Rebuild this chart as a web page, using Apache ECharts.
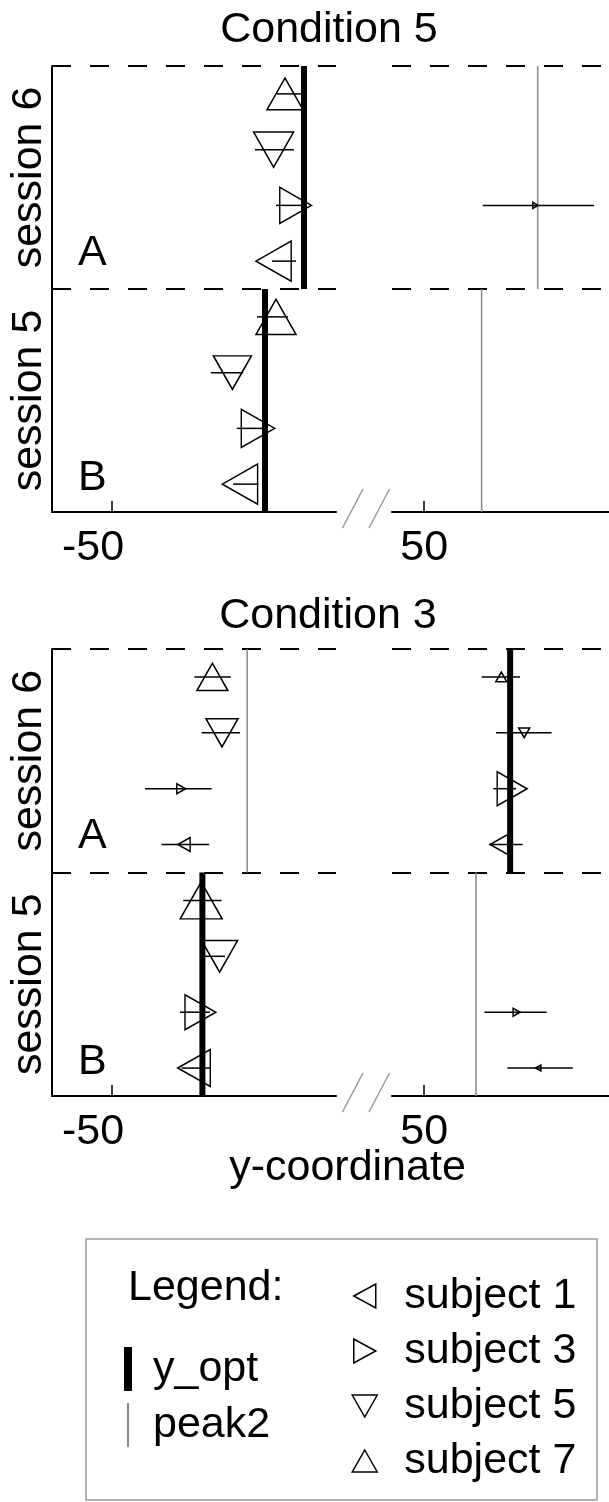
<!DOCTYPE html>
<html>
<head>
<meta charset="utf-8">
<title>y-coordinate per condition and session</title>
<script src="https://cdn.jsdelivr.net/npm/echarts@6/dist/echarts.min.js"></script>
<style>
  html, body { margin: 0; padding: 0; background: #fff; }
  #chart { width: 609px; height: 1502px; }
</style>
</head>
<body>
<div id="chart"></div>
<script>
const FONT = '"Liberation Sans", Arial, Helvetica, sans-serif';

const conditions = ['Condition 5', 'Condition 3'];
const subjects = ['subject 1', 'subject 3', 'subject 5', 'subject 7'];
const subjectRotate = [90, -90, 180, 0]; // <  >  v  ^
const sessionLabels = ['session 5', 'session 6'];
const sessionLetters = ['B', 'A'];

// tick labels on the two parts of the broken x axis
const leftTicks = [-50];
const rightTicks = [50];

// [session, subject index, mean, low, high, count(marker size)]
const cond5Points = [
  [6, 0, -9.6, -10.0, -4.0, 40],
  [6, 1, -4.1, -9.0, -2.25, 36],
  [6, 1, 77.7, 64.6, 92.3, 6],
  [6, 2, -9.6, -14.25, -4.5, 40],
  [6, 3, -6.75, -8.75, -2.5, 36],
  [5, 0, -18.0, -19.7, -13.4, 40],
  [5, 1, -13.5, -18.8, -11.3, 38],
  [5, 2, -19.9, -25.3, -17.2, 38],
  [5, 3, -9.0, -13.75, -6.0, 40]
];
const cond3Points = [
  [6, 0, -32.0, -37.6, -25.7, 14],
  [6, 0, 68.6, 66.2, 74.5, 20],
  [6, 1, -32.7, -41.75, -25.1, 10],
  [6, 1, 71.9, 67.2, 72.9, 34],
  [6, 2, -22.5, -27.6, -18.0, 32],
  [6, 2, 74.9, 67.9, 81.7, 11],
  [6, 3, -24.9, -29.4, -20.3, 31],
  [6, 3, 69.2, 64.3, 73.85, 11],
  [5, 0, -29.5, -32.6, -25.5, 37],
  [5, 0, 78.4, 70.7, 87.0, 6],
  [5, 1, -27.9, -33.0, -25.5, 35],
  [5, 1, 73.0, 65.0, 80.5, 8],
  [5, 2, -23.1, -27.6, -21.75, 36],
  [5, 3, -27.7, -32.2, -22.6, 42]
];

// [session 5, session 6]
const cond5YOpt = [-11.75, -2.0];
const cond5Peak2 = [64.3, 78.25];
const cond3YOpt = [-27.4, 71.4];
const cond3Peak2 = [62.9, -16.2];

const panels = [
  { points: cond5Points, yOpt: cond5YOpt, peak2: cond5Peak2, top: 66, height: 446 },
  { points: cond3Points, yOpt: cond3YOpt, peak2: cond3Peak2, top: 649, height: 447 }
];
const BREAK = 20; // values above this sit on the right part of the axis

// legend icons: the rotated triangles drawn as paths
const legendIcons = [
  'path://M0,12L22,0L22,24Z',
  'path://M22,12L0,0L0,24Z',
  'path://M0,0L25,0L12.5,22Z',
  'path://M12.5,0L25,22L0,22Z'
];

const rowOf = (session, k) => (session === 6 ? 4 : 0) + k + 0.5;

function vLine(width, color) {
  return function (params, api) {
    const a = api.coord([api.value(0), api.value(1)]);
    const b = api.coord([api.value(0), api.value(2)]);
    return {
      type: 'line',
      shape: { x1: a[0], y1: a[1], x2: b[0], y2: b[1] },
      style: { stroke: color, lineWidth: width }
    };
  };
}
function errBar(params, api) {
  const a = api.coord([api.value(0), api.value(2)]);
  const b = api.coord([api.value(1), api.value(2)]);
  return {
    type: 'line',
    shape: { x1: a[0], y1: a[1], x2: b[0], y2: b[1] },
    style: { stroke: '#000', lineWidth: 1.5 }
  };
}

const textStyle = { fontSize: 43, fontFamily: FONT, color: '#000' };

const grids = [], xAxes = [], yAxes = [], series = [];
panels.forEach((panel, p) => {
  [0, 1].forEach(side => {
    const g = p * 2 + side;
    const inSide = v => (side === 0 ? v < BREAK : v >= BREAK);
    grids.push({
      left: side ? 392 : 52, width: side ? 217 : 284,
      top: panel.top, height: panel.height,
      containLabel: false, outerBoundsMode: 'none'
    });
    xAxes.push({
      gridIndex: g, type: 'value',
      min: side ? 42 : -65, max: side ? 96 : 6,
      axisLine: { show: true, onZero: false, lineStyle: { color: '#000', width: 2 } },
      axisTick: { show: true, inside: true, length: 11, customValues: side ? rightTicks : leftTicks,
        lineStyle: { color: '#000', width: 1.5 } },
      axisLabel: Object.assign({ show: true, customValues: side ? rightTicks : leftTicks, margin: 15,
        padding: side ? 0 : [0, 38, 0, 0] }, textStyle),
      splitLine: { show: false }
    });
    yAxes.push({
      gridIndex: g, type: 'value', min: 0, max: 8, interval: 4,
      axisLine: { show: side === 0, onZero: false, lineStyle: { color: '#000', width: 2 } },
      axisTick: { show: false },
      axisLabel: side === 0
        ? Object.assign({ customValues: [2, 6], rotate: 90, margin: 1,
            formatter: v => sessionLabels[v > 4 ? 1 : 0] }, textStyle)
        : { show: false },
      splitLine: { show: true, lineStyle: { color: '#000', width: 2, type: [19, 19] } }
    });

    // error bars
    const errData = panel.points.filter(pt => inSide(pt[2]))
      .map(pt => [pt[3], pt[4], rowOf(pt[0], pt[1])]);
    if (errData.length) {
      series.push({ type: 'custom', name: 'error', xAxisIndex: g, yAxisIndex: g,
        renderItem: errBar, data: errData, silent: true, z: 3 });
    }
    // y_opt and peak2 lines, one per session
    [['y_opt', panel.yOpt, 6, '#000'], ['peak2', panel.peak2, 1.5, '#888']].forEach(([name, vals, w, c]) => {
      const d = [];
      vals.forEach((v, si) => { if (inSide(v)) d.push([v, si * 4, si * 4 + 4]); });
      if (d.length) {
        series.push({ type: 'custom', name, xAxisIndex: g, yAxisIndex: g,
          renderItem: vLine(w, c), itemStyle: { color: c }, data: d, silent: true, z: 2 });
      }
    });
    // subject markers
    subjects.forEach((name, k) => {
      const d = panel.points.filter(pt => pt[1] === k && inSide(pt[2]))
        .map(pt => [pt[2], rowOf(pt[0], k), pt[5]]);
      if (!d.length) return;
      series.push({
        type: 'scatter', name, xAxisIndex: g, yAxisIndex: g,
        symbol: 'triangle', symbolRotate: subjectRotate[k],
        symbolSize: val => [val[2], val[2] * 0.88],
        itemStyle: { color: 'rgba(0,0,0,0)', borderColor: '#000', borderWidth: 1.5, opacity: 1 },
        data: d, z: 4, silent: true
      });
    });
  });
});

const textEl = (text, x, y, align) => ({
  type: 'text', x, y, silent: true,
  style: { text, fontSize: 43, fontFamily: FONT, fill: '#000', align: align || 'left', verticalAlign: 'middle' }
});
const slash = (x1, y1, x2, y2) => ({
  type: 'line', silent: true, shape: { x1, y1, x2, y2 }, style: { stroke: '#999', lineWidth: 1.5 }
});

const graphic = [];
panels.forEach(panel => {
  const unit = panel.height / 8;
  graphic.push(textEl(sessionLetters[1], 78, panel.top + 3.35 * unit));
  graphic.push(textEl(sessionLetters[0], 78, panel.top + 7.4 * unit));
  const yb = panel.top + panel.height;
  graphic.push(slash(363, yb - 23, 342.5, yb + 16));
  graphic.push(slash(389.5, yb - 23, 369, yb + 16));
});
graphic.push(textEl('y-coordinate', 347.5, 1168, 'center'));
graphic.push({ type: 'rect', silent: true, shape: { x: 86, y: 1239, width: 511, height: 261 },
  style: { fill: 'none', stroke: '#999', lineWidth: 1.5 } });
graphic.push(textEl('Legend:', 128, 1288));

const chart = echarts.init(document.getElementById('chart'));
chart.setOption({
  animation: false,
  backgroundColor: '#fff',
  title: conditions.map((c, i) => ({
    text: c, left: i ? 328 : 329, top: i ? 595 : 8.5, padding: 0,
    textAlign: 'center', textVerticalAlign: 'top',
    textStyle: Object.assign({ fontWeight: 'normal', lineHeight: 43 }, textStyle)
  })),
  legend: [
    {
      orient: 'vertical', left: 124, top: 1347, padding: 0,
      itemWidth: 8, itemHeight: 44, itemGap: 12, selectedMode: false,
      data: [{ name: 'y_opt', icon: 'rect' }, { name: 'peak2', icon: 'path://M3,0h2v44h-2z' }],
      itemStyle: { borderWidth: 0 },
      textStyle: Object.assign({ lineHeight: 43, padding: [0, 0, 0, 16] }, textStyle)
    },
    {
      orient: 'vertical', left: 351.5, top: 1274.5, padding: 0,
      itemWidth: 25, itemHeight: 24, itemGap: 12, selectedMode: false,
      data: subjects.map((name, k) => ({ name, icon: legendIcons[k] })),
      itemStyle: { color: 'rgba(0,0,0,0)', borderColor: '#000', borderWidth: 1.5 },
      textStyle: Object.assign({ lineHeight: 43, padding: [0, 0, 0, 22] }, textStyle)
    }
  ],
  grid: grids,
  xAxis: xAxes,
  yAxis: yAxes,
  graphic,
  series
});
</script>
</body>
</html>
